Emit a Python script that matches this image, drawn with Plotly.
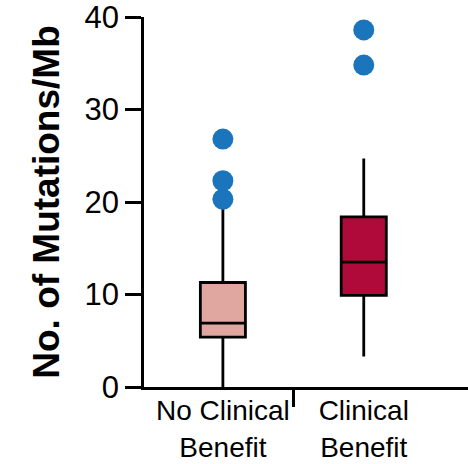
import plotly.graph_objects as go

categories = ["No Clinical<br>Benefit", "Clinical<br>Benefit"]
positions = [0, 1]
q1 = [5.4, 9.9]
median = [6.9, 13.5]
q3 = [11.3, 18.4]
lowerfence = [0.0, 3.3]
upperfence = [20.0, 24.7]
outliers = [[20.3, 22.3, 26.8], [34.8, 38.6]]
fills = ["#e0a6a0", "#b00a3a"]
y_ticks = [0, 10, 20, 30, 40]

fig = go.Figure()
for i in range(2):
    fig.add_trace(go.Box(
        x=[positions[i]], q1=[q1[i]], median=[median[i]], q3=[q3[i]],
        lowerfence=[lowerfence[i]], upperfence=[upperfence[i]],
        boxpoints=False, fillcolor=fills[i], line=dict(color="black", width=2.8),
        whiskerwidth=0, width=0.32, showlegend=False, hoverinfo="skip",
    ))
    fig.add_trace(go.Scatter(
        x=[positions[i]] * len(outliers[i]), y=outliers[i], mode="markers",
        marker=dict(color="#1b75bc", size=21, line=dict(width=0)),
        showlegend=False, hoverinfo="skip",
    ))

font = "Liberation Sans, Arial, sans-serif"
fig.update_layout(
    width=468, height=464,
    margin=dict(l=144, r=0, t=17, b=77),
    paper_bgcolor="white", plot_bgcolor="white",
    font=dict(family=font, color="black"),
    xaxis=dict(
        range=[-0.56, 1.74], tickvals=positions, ticktext=categories,
        ticks="", showline=True, linecolor="black", linewidth=2.5,
        showgrid=False, zeroline=False, tickfont=dict(size=28),
        automargin=False, ticklabeloverflow="allow", ticklabelstandoff=-3,
        minor=dict(tickvals=[0.5], ticks="outside", ticklen=17, tickwidth=2.5, tickcolor="black", showgrid=False),
    ),
    yaxis=dict(
        range=[0, 40], tickvals=y_ticks, ticks="outside", ticklen=16, tickwidth=2.5,
        tickcolor="black", showline=True, linecolor="black", linewidth=2.5,
        showgrid=False, zeroline=False, tickfont=dict(size=31),
        automargin=False, ticklabeloverflow="allow",
        title=dict(text="<b>No. of Mutations/Mb</b>", font=dict(size=37), standoff=14),
    ),
)
fig.write_html("out.html")
